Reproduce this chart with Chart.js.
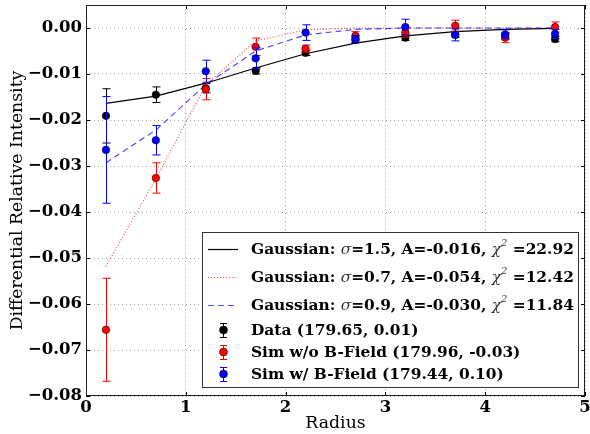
<!DOCTYPE html>
<html>
<head>
<meta charset="utf-8">
<script src="https://cdn.jsdelivr.net/npm/chart.js@4"></script>
<style>
    html, body { margin: 0; padding: 0; background: #fff; }
    #wrap { width: 590px; height: 434px; }
</style>
</head>
<body>
<div id="wrap"><canvas id="chart" width="590" height="434"></canvas></div>
<script>
// radial bins
const radius = [0.2, 0.7, 1.2, 1.7, 2.2, 2.7, 3.2, 3.7, 4.2, 4.7];

// measured and simulated differential intensity with errors
const dataVals  = [-0.0191, -0.0145, -0.0131, -0.0093, -0.0054, -0.0026, -0.0021, -0.0014, -0.0017, -0.0024];
const dataErr   = [0.0059, 0.0017, 0.0010, 0.0007, 0.0006, 0.0006, 0.0006, 0.0006, 0.0006, 0.0006];
const simNoB    = [-0.0656, -0.0326, -0.0133, -0.0041, -0.0045, -0.0017, -0.0010, 0.0005, -0.0021, 0.0002];
const simNoBErr = [0.0112, 0.0033, 0.0023, 0.0019, 0.0008, 0.0009, 0.0010, 0.0012, 0.0011, 0.0011];
const simB      = [-0.0265, -0.0244, -0.0094, -0.0066, -0.0010, -0.0024, 0.0002, -0.0015, -0.0014, -0.0013];
const simBErr   = [0.0116, 0.0032, 0.0024, 0.0023, 0.0017, 0.0008, 0.0017, 0.0013, 0.0010, 0.0010];

// gaussian fit values at each bin
const fitData = [-0.0164, -0.0148, -0.0120, -0.0087, -0.0056, -0.0033, -0.0017, -0.0008, -0.0003, -0.0001];
const fitNoB  = [-0.0518, -0.0328, -0.0124, -0.0028, -0.0004, 0.0000, 0.0000, 0.0000, 0.0000, 0.0000];
const fitB    = [-0.0293, -0.0222, -0.0123, -0.0050, -0.0015, -0.0003, 0.0000, 0.0000, 0.0000, 0.0000];

const xTicks = [0, 1, 2, 3, 4, 5];
const yTicks = [-0.08, -0.07, -0.06, -0.05, -0.04, -0.03, -0.02, -0.01, 0.00];

const fitLabels = [
    ['1.5', '-0.016', '22.92'],
    ['0.7', '-0.054', '12.42'],
    ['0.9', '-0.030', '11.84']
];
const pointLabels = [
    'Data (179.65, 0.01)',
    'Sim w/o B-Field (179.96, -0.03)',
    'Sim w/ B-Field (179.44, 0.10)'
];

const SERIF = '"DejaVu Serif", serif';
const RED = '#ff0000';
const BLUE = '#0000ff';
const RED_FIT = 'rgba(255,0,0,0.7)';
const BLUE_FIT = 'rgba(0,0,255,0.7)';

const pts = (ys) => radius.map((x, i) => ({ x: x, y: ys[i] }));

// error bars drawn just before each point dataset so stacking stays right
const errorBars = {
    id: 'errorBars',
    beforeDatasetDraw(chart, args) {
        const ds = chart.data.datasets[args.index];
        if (!ds.errors) return;
        const { ctx, scales: { x, y } } = chart;
        ctx.save();
        ctx.strokeStyle = ds.barColor;
        ctx.lineWidth = 1;
        ds.data.forEach((p, i) => {
            const px = Math.round(x.getPixelForValue(p.x)) + 0.5;
            const top = y.getPixelForValue(p.y + ds.errors[i]);
            const bot = y.getPixelForValue(p.y - ds.errors[i]);
            ctx.beginPath();
            ctx.moveTo(px, top); ctx.lineTo(px, bot);
            ctx.moveTo(px - 4, top); ctx.lineTo(px + 4, top);
            ctx.moveTo(px - 4, bot); ctx.lineTo(px + 4, bot);
            ctx.stroke();
        });
        ctx.restore();
    }
};

// axes frame with inward ticks on all four sides
const frame = {
    id: 'frame',
    afterDatasetsDraw(chart) {
        const { ctx, chartArea: a, scales: { x, y } } = chart;
        ctx.save();
        ctx.strokeStyle = '#000';
        ctx.lineWidth = 1;
        ctx.beginPath();
        xTicks.forEach(v => {
            const px = Math.round(x.getPixelForValue(v)) + 0.5;
            ctx.moveTo(px, a.bottom); ctx.lineTo(px, a.bottom - 4);
            ctx.moveTo(px, a.top); ctx.lineTo(px, a.top + 4);
        });
        yTicks.forEach(v => {
            const py = Math.round(y.getPixelForValue(v)) + 0.5;
            ctx.moveTo(a.left, py); ctx.lineTo(a.left + 4, py);
            ctx.moveTo(a.right, py); ctx.lineTo(a.right - 4, py);
        });
        ctx.stroke();
        ctx.strokeStyle = '#222';
        ctx.strokeRect(a.left + 0.5, a.top + 0.5, a.right - a.left - 1, a.bottom - a.top - 1);
        ctx.restore();
    }
};

// legend box in the lower right corner
const fitLegend = {
    id: 'fitLegend',
    afterDraw(chart) {
        const { ctx, chartArea: a } = chart;
        const bold = 'bold 15.4px ' + SERIF;
        const ital = 'italic 15.4px ' + SERIF;
        const left = a.right - 383, top = 232, w = 376, h = 155;
        ctx.save();
        ctx.fillStyle = '#fff';
        ctx.fillRect(left, top, w, h);
        ctx.strokeStyle = '#333';
        ctx.lineWidth = 1;
        ctx.strokeRect(left + 0.5, top + 0.5, w, h);

        const sx0 = left + 6, sx1 = left + 36, tx = left + 49;
        const rows = [249, 277, 305, 330, 352, 374];
        const styles = [
            { c: '#000', dash: [] },
            { c: RED_FIT, dash: [1, 2] },
            { c: BLUE_FIT, dash: [6, 4] }
        ];
        ctx.textBaseline = 'middle';
        fitLabels.forEach((f, i) => {
            const yy = rows[i] + 0.5;
            ctx.strokeStyle = styles[i].c;
            ctx.setLineDash(styles[i].dash);
            ctx.lineWidth = 1.2;
            ctx.beginPath(); ctx.moveTo(sx0, yy); ctx.lineTo(sx1, yy); ctx.stroke();
            ctx.setLineDash([]);
            const parts = [
                [bold, 'Gaussian: ', 0], [ital, '\u03c3', 0], [bold, '=' + f[0] + ', A=' + f[1] + ', ', 0],
                [ital, '\u03c7', 0], ['italic 10px ' + SERIF, '2', -7], [bold, ' =' + f[2], 0]
            ];
            let cx = tx;
            parts.forEach(([font, t, dy]) => {
                ctx.font = font;
                ctx.fillStyle = font === bold ? '#000' : '#333';
                ctx.fillText(t, cx, rows[i] + 1 + dy);
                cx += ctx.measureText(t).width;
            });
        });
        const colors = ['#000', RED, BLUE];
        pointLabels.forEach((t, i) => {
            const yy = rows[i + 3];
            const mx = (sx0 + sx1) / 2;
            ctx.strokeStyle = colors[i];
            ctx.lineWidth = 1;
            ctx.beginPath();
            ctx.moveTo(mx + 0.5, yy - 7); ctx.lineTo(mx + 0.5, yy + 7);
            ctx.moveTo(mx - 3, yy - 7 + 0.5); ctx.lineTo(mx + 4, yy - 7 + 0.5);
            ctx.moveTo(mx - 3, yy + 7 + 0.5); ctx.lineTo(mx + 4, yy + 7 + 0.5);
            ctx.stroke();
            ctx.fillStyle = colors[i];
            ctx.beginPath(); ctx.arc(mx + 0.5, yy, 4, 0, Math.PI * 2); ctx.fill();
            ctx.strokeStyle = '#000'; ctx.lineWidth = 0.5; ctx.stroke();
            ctx.fillStyle = '#000';
            ctx.font = bold;
            ctx.fillText(t, tx, yy + 1);
        });
        ctx.restore();
    }
};

const pointSet = (label, vals, errs, color, order) => ({
    label, data: pts(vals), errors: errs, barColor: color, order,
    showLine: false, pointRadius: 3.8, pointHoverRadius: 3.8,
    backgroundColor: color, borderColor: '#000', borderWidth: 0.5
});

const lineSet = (label, vals, color, dash, order) => ({
    label, data: pts(vals), order, showLine: true, pointRadius: 0,
    borderColor: color, borderWidth: 1.2, borderDash: dash, fill: false
});

new Chart(document.getElementById('chart'), {
    type: 'scatter',
    data: {
        datasets: [
            pointSet('Sim w/ B-Field', simB, simBErr, BLUE, 1),
            pointSet('Sim w/o B-Field', simNoB, simNoBErr, RED, 2),
            pointSet('Data', dataVals, dataErr, '#000', 3),
            lineSet('fit B', fitB, BLUE_FIT, [6, 4], 4),
            lineSet('fit no B', fitNoB, RED_FIT, [1, 2], 5),
            lineSet('fit data', fitData, '#000', [], 6)
        ]
    },
    options: {
        responsive: false,
        animation: false,
        devicePixelRatio: 1,
        layout: { autoPadding: false, padding: { top: 5, right: 5, left: 0, bottom: 0 } },
        plugins: { legend: { display: false }, tooltip: { enabled: false } },
        scales: {
            x: {
                type: 'linear', min: 0, max: 5,
                afterBuildTicks: s => { s.ticks = xTicks.map(v => ({ value: v })); },
                // fixed axis band, no extra room for overhanging end labels
                afterFit: s => { s.height = 38; s.paddingLeft = 0; s.paddingRight = 0; },
                ticks: { color: '#000', padding: 2, font: { family: SERIF, size: 16.5, weight: 'bold' }, callback: v => String(v) },
                grid: { color: '#888', lineWidth: 0.8, drawTicks: false },
                border: { display: false, dash: [1, 3] },
                title: { display: true, text: 'Radius', color: '#000', padding: { top: 0, bottom: 0 }, font: { family: SERIF, size: 17.3 } }
            },
            y: {
                type: 'linear', min: -0.08, max: 0.005,
                afterBuildTicks: s => { s.ticks = yTicks.map(v => ({ value: v })); },
                afterFit: s => { s.width = 86; s.paddingTop = 0; s.paddingBottom = 0; },
                ticks: { color: '#000', padding: 4, font: { family: SERIF, size: 16.5, weight: 'bold' }, callback: v => v.toFixed(2).replace('-', '\u2212') },
                grid: { color: '#888', lineWidth: 0.8, drawTicks: false },
                border: { display: false, dash: [1, 3] },
                title: { display: true, text: 'Differential Relative Intensity', color: '#000', padding: { top: 7, bottom: 0 }, font: { family: SERIF, size: 17.3 } }
            }
        }
    },
    plugins: [errorBars, frame, fitLegend]
});
</script>
</body>
</html>
